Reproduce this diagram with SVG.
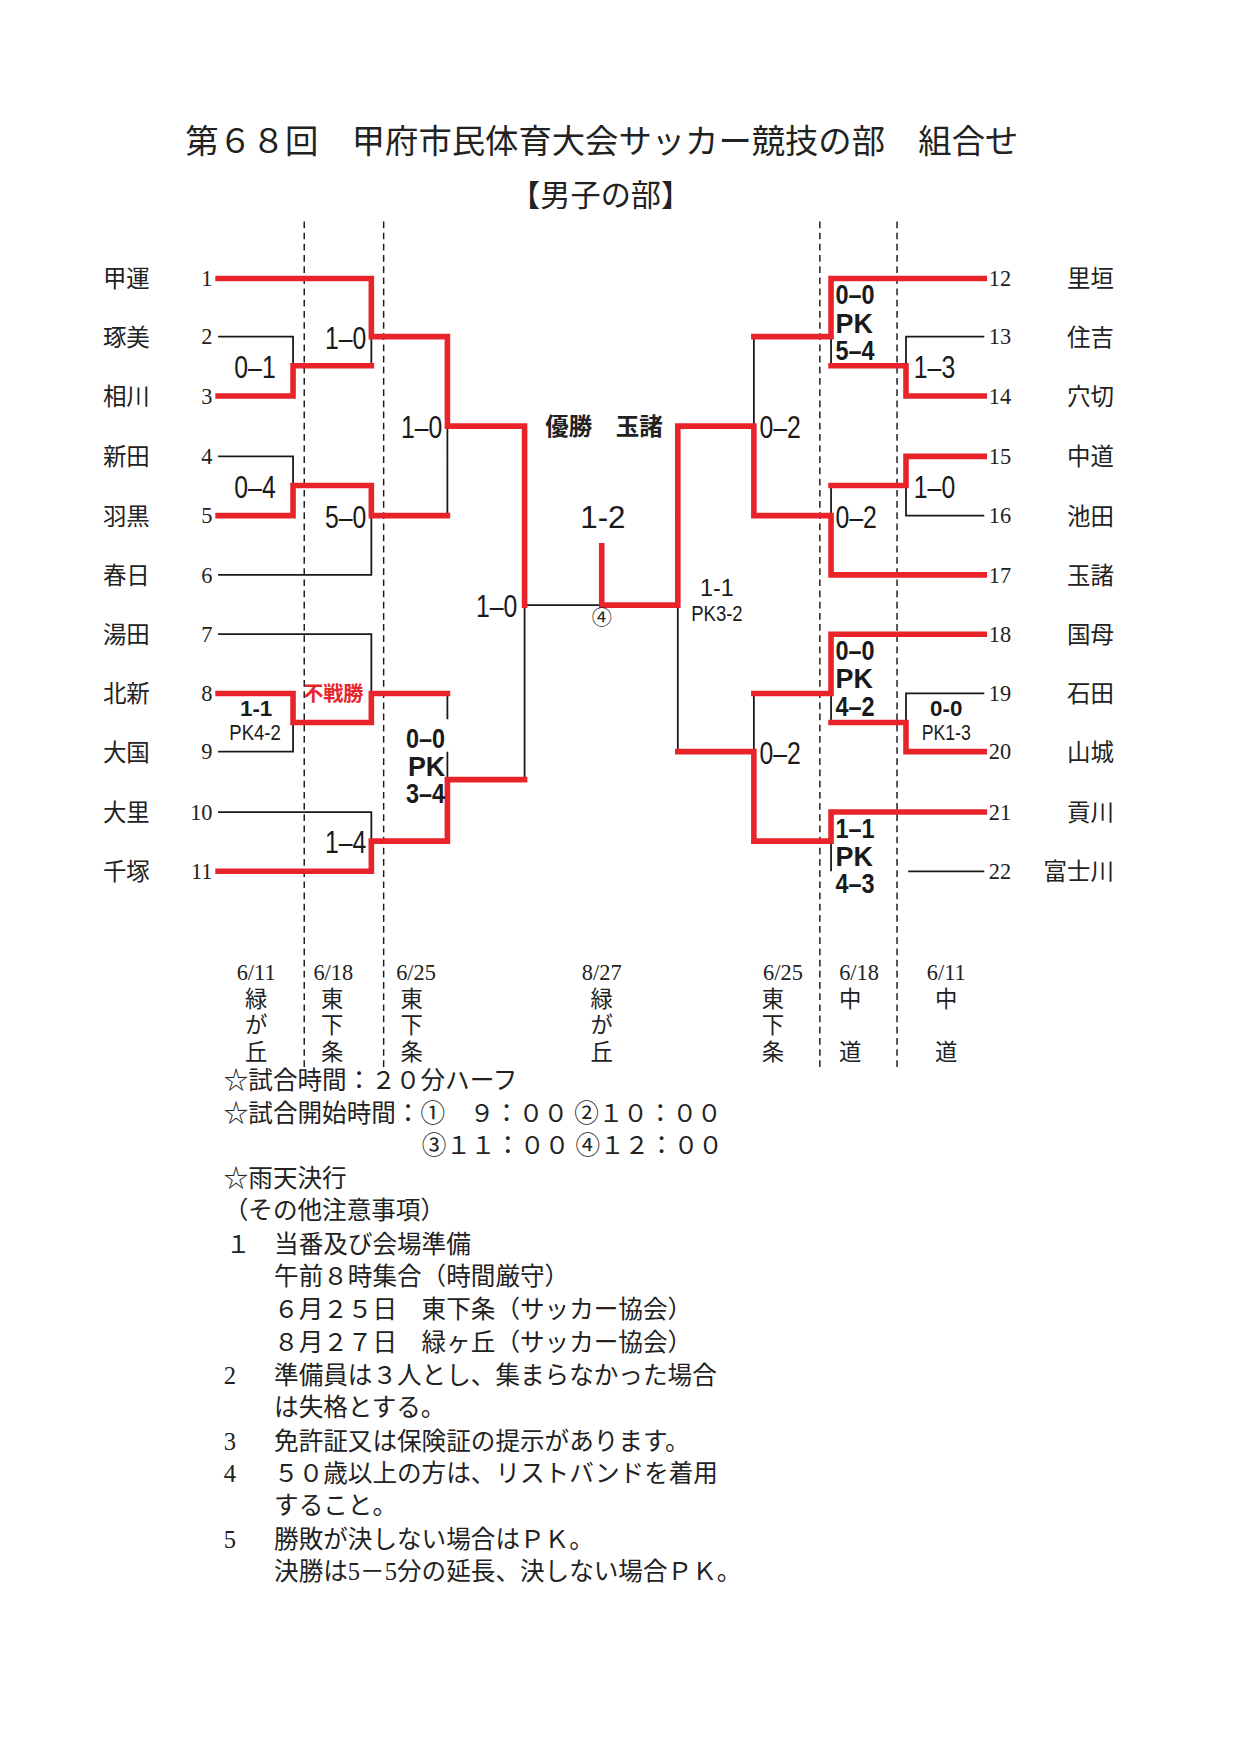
<svg xmlns="http://www.w3.org/2000/svg" width="1240" height="1754" viewBox="0 0 1240 1754">
<style>
.r{fill:none;stroke:#e8242a;stroke-width:5;stroke-linejoin:miter;stroke-linecap:square}
.k{fill:none;stroke:#1a1a1a;stroke-width:1.6}
.d{fill:none;stroke:#1a1a1a;stroke-width:1.3;stroke-dasharray:6,4}
.t{font-family:"Liberation Serif","Noto Sans CJK JP",serif;fill:#222}
.tt{font-size:29.8px;text-anchor:middle}
.nm{font-size:21px}
.no{font-size:20px}
.sc{font-family:"Liberation Sans Narrow","Liberation Sans",sans-serif;font-size:28.5px;fill:#1a1a1a}
.sb{font-family:"Liberation Sans Narrow","Liberation Sans",sans-serif;font-size:24px;font-weight:bold;fill:#1a1a1a}
.ss{font-family:"Liberation Sans Narrow","Liberation Sans",sans-serif;font-size:19px;fill:#1a1a1a;text-anchor:middle}
.c{text-anchor:middle}
.e{text-anchor:end}
.dt{font-size:20px;text-anchor:middle}
.nt{font-size:22px}
</style>
<rect width="1240" height="1754" fill="#fff"/>
<g transform="scale(1.1185)">
<g id="title" class="t">
<text class="tt" x="538" y="137">第６８回　甲府市民体育大会サッカー競技の部　組合せ</text>
<text x="537" y="184" style="font-size:27px;text-anchor:middle">【男子の部】</text>
</g>
<g id="dividers">
<line class="d" x1="272" y1="198" x2="272" y2="955"/>
<line class="d" x1="343" y1="198" x2="343" y2="955"/>
<line class="d" x1="733" y1="198" x2="733" y2="955"/>
<line class="d" x1="802" y1="198" x2="802" y2="955"/>
</g>
<g id="connectors">
<path class="k" d="M195,301 H262 V327 M332,327 V301 M195,408 H262 V434 M195,514 H332 V461 M400,461 V381 M469,541 H538 M469,541 V697 M195,567 H332 V620 M195,672 H262 V646 M195,726 H332 V752 M400,620 V643 M400,672 V697"/>
<path class="k" d="M743,327 V301 M674,301 V381 M880,301 H810 V327 M880,461 H810 V434 M743,434 V461 M674,620 V672 M880,620 H810 V646 M743,646 V620 M606,541 V672 M743,752 V779 M812,779 H880"/>
<path class="r" d="M195,249 H332 V301 H400 V381 H469 V541"/>
<path class="r" d="M195,354 H262 V327 H332"/>
<path class="r" d="M195,461 H262 V434 H332 V461 H400"/>
<path class="r" d="M195,620 H262 V646 H332 V620 H400"/>
<path class="r" d="M195,779 H332 V752 H400 V697 H469"/>
<path class="r" d="M880,249 H743 V301 H674"/>
<path class="r" d="M880,354 H810 V327 H743"/>
<path class="r" d="M880,408 H810 V434 H743"/>
<path class="r" d="M880,514 H743 V461 H674 V381 H606 V541 H538 V488"/>
<path class="r" d="M880,567 H743 V620 H674"/>
<path class="r" d="M880,672 H810 V646 H743"/>
<path class="r" d="M880,726 H743 V752 H674 V672 H606"/>
</g>
<g id="teams-left" class="t">
<g id="t1"><text class="nm" x="92" y="257">甲運</text><text class="no e" x="190" y="256">1</text></g>
<g id="t2"><text class="nm" x="92" y="309">琢美</text><text class="no e" x="190" y="308">2</text></g>
<g id="t3"><text class="nm" x="92" y="362">相川</text><text class="no e" x="190" y="361">3</text></g>
<g id="t4"><text class="nm" x="92" y="416">新田</text><text class="no e" x="190" y="415">4</text></g>
<g id="t5"><text class="nm" x="92" y="469">羽黒</text><text class="no e" x="190" y="468">5</text></g>
<g id="t6"><text class="nm" x="92" y="522">春日</text><text class="no e" x="190" y="521">6</text></g>
<g id="t7"><text class="nm" x="92" y="575">湯田</text><text class="no e" x="190" y="574">7</text></g>
<g id="t8"><text class="nm" x="92" y="628">北新</text><text class="no e" x="190" y="627">8</text></g>
<g id="t9"><text class="nm" x="92" y="680">大国</text><text class="no e" x="190" y="679">9</text></g>
<g id="t10"><text class="nm" x="92" y="734">大里</text><text class="no e" x="190" y="733">10</text></g>
<g id="t11"><text class="nm" x="92" y="787">千塚</text><text class="no e" x="190" y="786">11</text></g>
</g>
<g id="teams-right" class="t">
<g id="t12"><text class="no" x="884" y="256">12</text><text class="nm e" x="996" y="257">里垣</text></g>
<g id="t13"><text class="no" x="884" y="308">13</text><text class="nm e" x="996" y="309">住吉</text></g>
<g id="t14"><text class="no" x="884" y="361">14</text><text class="nm e" x="996" y="362">穴切</text></g>
<g id="t15"><text class="no" x="884" y="415">15</text><text class="nm e" x="996" y="416">中道</text></g>
<g id="t16"><text class="no" x="884" y="468">16</text><text class="nm e" x="996" y="469">池田</text></g>
<g id="t17"><text class="no" x="884" y="521">17</text><text class="nm e" x="996" y="522">玉諸</text></g>
<g id="t18"><text class="no" x="884" y="574">18</text><text class="nm e" x="996" y="575">国母</text></g>
<g id="t19"><text class="no" x="884" y="627">19</text><text class="nm e" x="996" y="628">石田</text></g>
<g id="t20"><text class="no" x="884" y="679">20</text><text class="nm e" x="996" y="680">山城</text></g>
<g id="t21"><text class="no" x="884" y="733">21</text><text class="nm e" x="996" y="734">貢川</text></g>
<g id="t22"><text class="no" x="884" y="786">22</text><text class="nm e" x="996" y="787">富士川</text></g>
</g>
<g id="scores-left">
<text class="sc c" x="228" y="338" textLength="37" lengthAdjust="spacingAndGlyphs">0–1</text>
<text class="sc c" x="309" y="312" textLength="37" lengthAdjust="spacingAndGlyphs">1–0</text>
<text class="sc c" x="228" y="445" textLength="37" lengthAdjust="spacingAndGlyphs">0–4</text>
<text class="sc c" x="309" y="472" textLength="37" lengthAdjust="spacingAndGlyphs">5–0</text>
<text class="sc c" x="377" y="392" textLength="37" lengthAdjust="spacingAndGlyphs">1–0</text>
<text class="sc c" x="444" y="552" textLength="37" lengthAdjust="spacingAndGlyphs">1–0</text>
<text class="ss" x="229" y="640" style="font-weight:bold;font-size:20px">1-1</text>
<text class="ss" x="228" y="662" textLength="46" lengthAdjust="spacingAndGlyphs">PK4-2</text>
<text x="298" y="627" style="font-family:'Liberation Sans','Noto Sans CJK JP',sans-serif;font-size:18px;font-weight:bold;fill:#e8242a;text-anchor:middle">不戦勝</text>
<text class="sc c" x="309" y="763" textLength="37" lengthAdjust="spacingAndGlyphs">1–4</text>
<text class="sb e" x="398" y="669" textLength="35" lengthAdjust="spacingAndGlyphs">0–0</text>
<text class="sb e" x="398" y="694">PK</text>
<text class="sb e" x="398" y="718" textLength="35" lengthAdjust="spacingAndGlyphs">3–4</text>
</g>
<g id="scores-right">
<text class="sb" x="747" y="272" textLength="35" lengthAdjust="spacingAndGlyphs">0–0</text>
<text class="sb" x="747" y="298">PK</text>
<text class="sb" x="747" y="322" textLength="35" lengthAdjust="spacingAndGlyphs">5–4</text>
<text class="sc" x="817" y="338" textLength="37" lengthAdjust="spacingAndGlyphs">1–3</text>
<text class="sc" x="679" y="392" textLength="37" lengthAdjust="spacingAndGlyphs">0–2</text>
<text class="sc" x="817" y="445" textLength="37" lengthAdjust="spacingAndGlyphs">1–0</text>
<text class="sc" x="747" y="472" textLength="37" lengthAdjust="spacingAndGlyphs">0–2</text>
<text class="ss" x="641" y="533" style="font-size:21px">1-1</text>
<text class="ss" x="641" y="555" textLength="46" lengthAdjust="spacingAndGlyphs">PK3-2</text>
<text class="sb" x="747" y="590" textLength="35" lengthAdjust="spacingAndGlyphs">0–0</text>
<text class="sb" x="747" y="615">PK</text>
<text class="sb" x="747" y="640" textLength="35" lengthAdjust="spacingAndGlyphs">4–2</text>
<text class="ss" x="846" y="640" style="font-weight:bold;font-size:20px">0-0</text>
<text class="ss" x="846" y="662" textLength="44" lengthAdjust="spacingAndGlyphs">PK1-3</text>
<text class="sc" x="679" y="683" textLength="37" lengthAdjust="spacingAndGlyphs">0–2</text>
<text class="sb" x="747" y="749" textLength="35" lengthAdjust="spacingAndGlyphs">1–1</text>
<text class="sb" x="747" y="774">PK</text>
<text class="sb" x="747" y="798" textLength="35" lengthAdjust="spacingAndGlyphs">4–3</text>
</g>
<g id="final">
<text class="t" x="540" y="389" style="font-size:21px;font-weight:bold;text-anchor:middle">優勝　玉諸</text>
<text x="539" y="472" style="font-family:'Liberation Sans',sans-serif;font-size:28px;fill:#1a1a1a;text-anchor:middle">1-2</text>
<text class="t" x="538" y="559" style="font-size:18px;text-anchor:middle">④</text>
</g>
<g id="dates" class="t">
<text class="dt" x="229" y="876">6/11</text><text class="dt" x="229" y="900">緑</text><text class="dt" x="229" y="924">が</text><text class="dt" x="229" y="948">丘</text>
<text class="dt" x="298" y="876">6/18</text><text class="dt" x="297" y="900">東</text><text class="dt" x="297" y="924">下</text><text class="dt" x="297" y="948">条</text>
<text class="dt" x="372" y="876">6/25</text><text class="dt" x="368" y="900">東</text><text class="dt" x="368" y="924">下</text><text class="dt" x="368" y="948">条</text>
<text class="dt" x="538" y="876">8/27</text><text class="dt" x="538" y="900">緑</text><text class="dt" x="538" y="924">が</text><text class="dt" x="538" y="948">丘</text>
<text class="dt" x="700" y="876">6/25</text><text class="dt" x="691" y="900">東</text><text class="dt" x="691" y="924">下</text><text class="dt" x="691" y="948">条</text>
<text class="dt" x="768" y="876">6/18</text><text class="dt" x="760" y="900">中</text><text class="dt" x="760" y="948">道</text>
<text class="dt" x="846" y="876">6/11</text><text class="dt" x="846" y="900">中</text><text class="dt" x="846" y="948">道</text>
</g>
<g id="notes" class="t nt" xml:space="preserve">
<text class="nt" x="200" y="974">☆試合時間：２０分ハーフ</text>
<text class="nt" x="200" y="1003">☆試合開始時間：①　９：００ ②１０：００</text>
<text class="nt" x="377" y="1032">③１１：００ ④１２：００</text>
<text class="nt" x="200" y="1061">☆雨天決行</text>
<text class="nt" x="200" y="1090">（その他注意事項）</text>
<text class="nt" x="202" y="1120">１</text><text class="nt" x="245" y="1120">当番及び会場準備</text>
<text class="nt" x="245" y="1149">午前８時集合（時間厳守）</text>
<text class="nt" x="245" y="1178">６月２５日　東下条（サッカー協会）</text>
<text class="nt" x="245" y="1208">８月２７日　緑ヶ丘（サッカー協会）</text>
<text class="nt" x="200" y="1237">2</text><text class="nt" x="245" y="1237">準備員は３人とし、集まらなかった場合</text>
<text class="nt" x="245" y="1266">は失格とする。</text>
<text class="nt" x="200" y="1296">3</text><text class="nt" x="245" y="1296">免許証又は保険証の提示があります。</text>
<text class="nt" x="200" y="1325">4</text><text class="nt" x="245" y="1325">５０歳以上の方は、リストバンドを着用</text>
<text class="nt" x="245" y="1354">すること。</text>
<text class="nt" x="200" y="1384">5</text><text class="nt" x="245" y="1384">勝敗が決しない場合はＰＫ。</text>
<text class="nt" x="245" y="1413">決勝は5－5分の延長、決しない場合ＰＫ。</text>
</g>
</g>
</svg>
